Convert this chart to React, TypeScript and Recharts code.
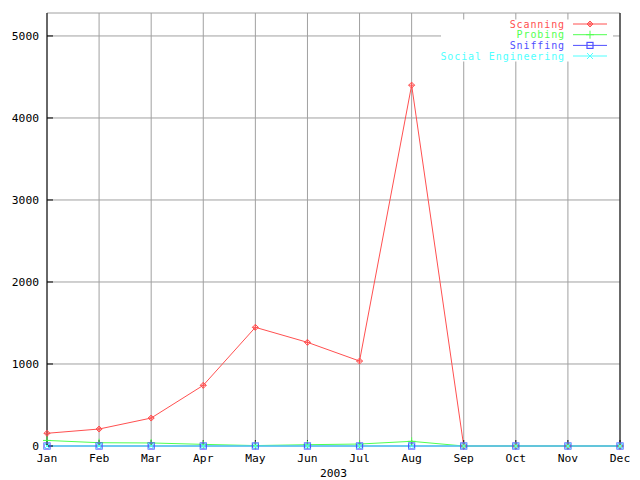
import React from 'react';
import { LineChart, Line, XAxis, YAxis, CartesianGrid } from 'recharts';

const months = ['Jan', 'Feb', 'Mar', 'Apr', 'May', 'Jun', 'Jul', 'Aug', 'Sep', 'Oct', 'Nov', 'Dec'];
const scanning = [155, 207, 341, 740, 1447, 1264, 1036, 4400, 0, 0, 0, 0];
const probing = [68, 40, 37, 20, 5, 16, 24, 57, 0, 0, 0, 0];
const sniffing = [0, 0, 0, 0, 0, 0, 0, 0, 0, 0, 0, 0];
const socialEngineering = [0, 0, 0, 0, 0, 0, 0, 0, 0, 0, 0, 0];
const yTicks = [0, 1000, 2000, 3000, 4000, 5000];
const xLabel = '2003';

const seriesNames = ['Scanning', 'Probing', 'Sniffing', 'Social Engineering'];
const seriesKeys = ['scanning', 'probing', 'sniffing', 'social'];
const colors = ['#ff5050', '#50ff50', '#5050ff', '#50ffff'];
const markers = ['diamond', 'plus', 'square', 'cross'];

const data = months.map((m, i) => ({
  month: m,
  scanning: scanning[i],
  probing: probing[i],
  sniffing: sniffing[i],
  social: socialEngineering[i],
}));

const FONT = '"DejaVu Sans Mono", monospace';

function Marker({ kind, cx, cy, color }: { kind: string; cx: number; cy: number; color: string }) {
  const s = 3;
  if (kind === 'diamond') {
    return (
      <g stroke={color} strokeWidth={1} fill="none">
        <path d={`M${cx - s},${cy} L${cx},${cy - s} L${cx + s},${cy} L${cx},${cy + s} Z`} />
        <path d={`M${cx - s},${cy} L${cx + s},${cy} M${cx},${cy - s} L${cx},${cy + s}`} />
      </g>
    );
  }
  if (kind === 'plus') {
    return (
      <path d={`M${cx - s - 1},${cy} L${cx + s + 1},${cy} M${cx},${cy - s - 1} L${cx},${cy + s + 1}`} stroke={color} strokeWidth={1} fill="none" />
    );
  }
  if (kind === 'square') {
    return <rect x={cx - s} y={cy - s} width={2 * s} height={2 * s} stroke={color} strokeWidth={1.2} fill="none" />;
  }
  return (
    <path d={`M${cx - s},${cy - s} L${cx + s},${cy + s} M${cx - s},${cy + s} L${cx + s},${cy - s}`} stroke={color} strokeWidth={1} fill="none" />
  );
}

const makeDot = (kind: string, color: string) => (props: any) => {
  const { cx, cy, index } = props;
  if (cx == null || cy == null) return <g key={index} />;
  return <Marker key={index} kind={kind} cx={cx} cy={cy} color={color} />;
};

const rowY = [24, 34.7, 45.4, 56];

export default function App() {
  return (
    <div style={{ position: 'absolute', left: 0, top: 0, width: 640, height: 480, background: '#fff' }}>
      <LineChart width={640} height={480} data={data} margin={{ top: 13, right: 0, left: 0, bottom: 0 }}>
        <CartesianGrid stroke="#a0a0a0" strokeWidth={1} />
        <XAxis
          dataKey="month"
          xAxisId={0}
          height={34}
          axisLine={false}
          tickLine={{ stroke: '#000' }}
          tickSize={-6}
          tickMargin={14}
          interval={0}
          tick={{ fill: '#000', fontFamily: FONT, fontSize: 11.3 }}
          label={{ value: xLabel, position: 'insideBottom', offset: 3, fill: '#000', fontFamily: FONT, fontSize: 11.3 }}
        />
        <XAxis
          dataKey="month"
          xAxisId="top"
          orientation="top"
          height={0}
          axisLine={{ stroke: '#000' }}
          tickLine={{ stroke: '#000' }}
          tickSize={-6}
          interval={0}
          tick={false}
        />
        <YAxis
          yAxisId={0}
          width={47}
          domain={[0, 5280]}
          ticks={yTicks}
          interval={0}
          axisLine={{ stroke: '#000' }}
          tickLine={{ stroke: '#000' }}
          tickSize={-6}
          tickMargin={14}
          tick={{ fill: '#000', fontFamily: FONT, fontSize: 11.3 }}
        />
        <YAxis
          yAxisId="right"
          orientation="right"
          width={20}
          domain={[0, 5280]}
          ticks={yTicks}
          interval={0}
          axisLine={{ stroke: '#000' }}
          tickLine={{ stroke: '#000' }}
          tickSize={-6}
          tick={false}
        />
        {seriesKeys.map((k, i) => (
          <Line
            key={k}
            type="linear"
            dataKey={k}
            name={seriesNames[i]}
            stroke={colors[i]}
            strokeWidth={1}
            dot={makeDot(markers[i], colors[i])}
            activeDot={false}
            isAnimationActive={false}
          />
        ))}
      </LineChart>
      <svg width={640} height={480} style={{ position: 'absolute', left: 0, top: 0, pointerEvents: 'none' }}>
        <rect x={441} y={19.5} width={172} height={42} fill="#fff" />
        {seriesNames.map((n, i) => (
          <g key={n}>
            <text x={565} y={rowY[i]} textAnchor="end" dominantBaseline="central" fill={colors[i]} fontFamily={FONT} fontSize={10} letterSpacing={0.9}>
              {n}
            </text>
            <line x1={573} x2={607} y1={rowY[i]} y2={rowY[i]} stroke={colors[i]} strokeWidth={1} />
            <Marker kind={markers[i]} cx={590} cy={rowY[i]} color={colors[i]} />
          </g>
        ))}
      </svg>
    </div>
  );
}
